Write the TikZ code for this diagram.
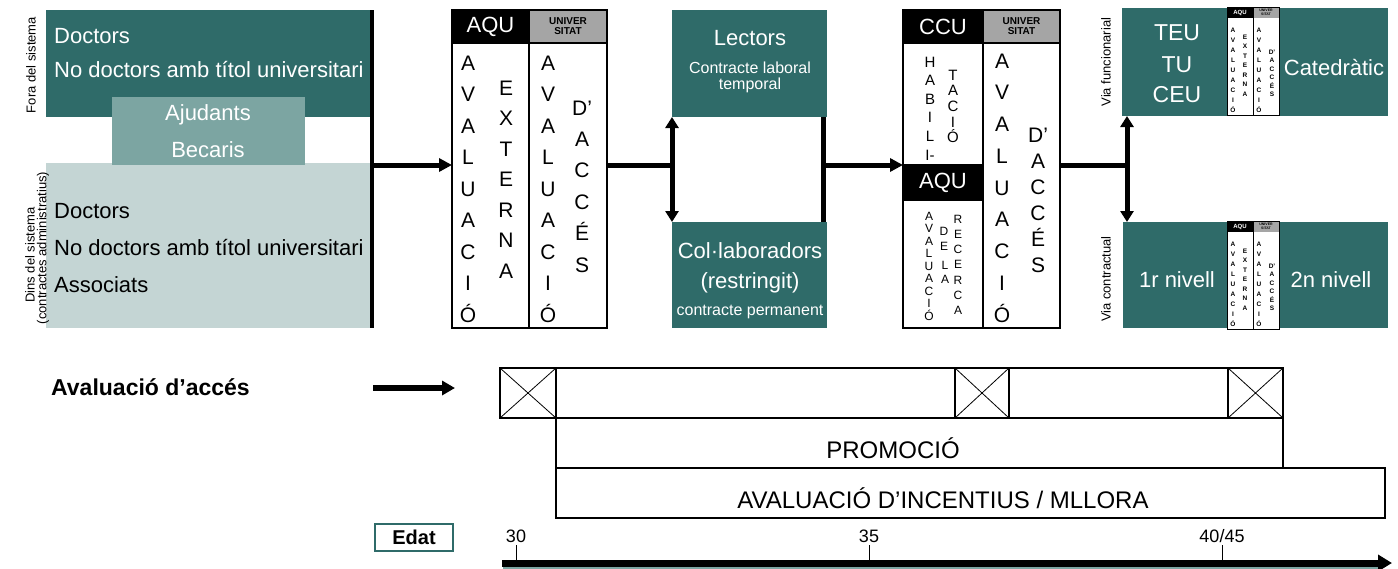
\documentclass[tikz,border=0pt]{standalone}
\usepackage{fontspec}
\setmainfont{Liberation Sans}
\usetikzlibrary{arrows.meta}

\definecolor{darkteal}{RGB}{47,107,105}
\definecolor{midteal}{RGB}{124,165,162}
\definecolor{paleteal}{RGB}{196,213,212}
\definecolor{headgray}{RGB}{165,165,165}

\newcommand{\fsize}[1]{\fontsize{#1}{#1}\selectfont}
% letters one under the other: name, x, first baseline, step, style, letters
\newcommand{\lettercol}[6]{%
  \foreach \ch [count=\k from 0] in {#6}
    \node[#5] (#1-\k) at (#2,{#3+\k*#4}) {\ch};%
}
% small AQU / UNIVERSITAT pair inside the right hand boxes
\newcommand{\minipair}[3]{%
  \begin{scope}[shift={(#1,#2)}]
    \node[box, fill=white, minimum width=52, minimum height=108] (#3) at (0,0) {};
    \node[box, fill=black, text=white, minimum width=26, minimum height=11,
      font=\fsize{6}\bfseries] (#3-aqu) at (0,0) {AQU};
    \node[box, fill=headgray, minimum width=26, minimum height=11, align=center,
      font=\fsize{3.5}\bfseries] (#3-uni) at (26,0) {UNIVER\\SITAT};
    \draw[line width=1pt] (#3.north west) rectangle (#3.south east);
    \draw[line width=1pt] (#3-uni.north west) -- (#3-uni.north west |- #3.south);
    \lettercol{#3-a}{6}{25}{10}{tinyletter}{A,V,A,L,U,A,C,I,Ó}
    \lettercol{#3-b}{18}{32}{9.5}{tinyletter}{E,X,T,E,R,N,A}
    \lettercol{#3-c}{32}{25}{10}{tinyletter}{A,V,A,L,U,A,C,I,Ó}
    \lettercol{#3-d}{45}{47}{8.5}{tinyletter}{D’,A,C,C,É,S}
  \end{scope}}

\begin{document}
\begin{tikzpicture}[x=1pt, y=-1pt,
    box/.style={anchor=north west, inner sep=0pt, outer sep=0pt},
    tealbox/.style={box, fill=darkteal},
    linebox/.style={box, draw, line width=1.2pt},
    whitetext/.style={anchor=base, inner sep=0pt, text=white, font=\fsize{22}},
    blacktext/.style={anchor=base, inner sep=0pt, font=\fsize{22}},
    sidelabel/.style={rotate=90, inner sep=0pt, font=\fsize{13}},
    bigletter/.style={anchor=base, inner sep=0pt, font=\fsize{21}},
    midletter/.style={anchor=base, inner sep=0pt, font=\fsize{15}},
    smallletter/.style={anchor=base, inner sep=0pt, font=\fsize{12}},
    tinyletter/.style={anchor=base, inner sep=0pt, font=\fsize{6.5}\bfseries},
    link/.style={line width=5pt},
    arrowlink/.style={link, -{Triangle[length=13pt,width=13pt]}},
    bothlink/.style={link, {Triangle[length=11pt,width=13pt]}-{Triangle[length=11pt,width=13pt]}},
    xbox/.style={linebox, path picture={
      \draw[line width=0.8pt] (path picture bounding box.north west) -- (path picture bounding box.south east)
        (path picture bounding box.north east) -- (path picture bounding box.south west);}},
  ]
  \useasboundingbox (0,0) rectangle (1398,568);
  \fill[white] (0,0) rectangle (1398,568);

  % staff outside and inside the system
  \node[tealbox, minimum width=326, minimum height=107] (fora) at (46,10) {};
  \node[box, fill=paleteal, minimum width=326, minimum height=165] (dins) at (46,163) {};
  \node[box, fill=midteal, minimum width=193, minimum height=68] (ajud) at (112,97) {};
  \node[whitetext, anchor=base west] (fora-1) at (54,43) {Doctors};
  \node[whitetext, anchor=base west] (fora-2) at (54,77) {No doctors amb títol universitari};
  \node[whitetext] (ajud-1) at (208,120) {Ajudants};
  \node[whitetext] (ajud-2) at (208,157) {Becaris};
  \node[blacktext, anchor=base west] (dins-1) at (54,218) {Doctors};
  \node[blacktext, anchor=base west] (dins-2) at (54,255) {No doctors amb títol universitari};
  \node[blacktext, anchor=base west] (dins-3) at (54,292) {Associats};
  \node[sidelabel] (foralab) at (31,65) {Fora del sistema};
  \node[sidelabel] (dinslab) at (30,255) {Dins del sistema};
  \node[sidelabel] (dinslab-2) at (43,248) {(contractes administratius)};

  \coordinate (barT) at (372,10);
  \coordinate (barB) at (372,328);
  \coordinate (j1) at (372,165);
  \draw[line width=4pt] (barT) -- (barB);

  % AQU external evaluation + university access evaluation
  \node[box, fill=black, text=white, minimum width=77, minimum height=33, font=\fsize{22}] (aqu-head) at (452,10) {AQU};
  \node[box, fill=headgray, minimum width=78, minimum height=33, align=center, font=\fsize{10}\bfseries] (aqu-uni) at (529,10) {UNIVER\\SITAT};
  \node[linebox, minimum width=155, minimum height=318] (aqu) at (452,10) {};
  \draw[line width=1.2pt] (aqu-uni.north west) -- (aqu-uni.north west |- aqu.south);
  \draw[line width=1.2pt] (aqu-head.south west) -- (aqu-uni.south east);
  \lettercol{aqu-a}{468}{70}{31.5}{bigletter}{A,V,A,L,U,A,C,I,Ó}
  \lettercol{aqu-b}{506}{95}{30.5}{bigletter}{E,X,T,E,R,N,A}
  \lettercol{aqu-c}{548}{70}{31.5}{bigletter}{A,V,A,L,U,A,C,I,Ó}
  \lettercol{aqu-d}{582}{115}{31.4}{bigletter}{D’,A,C,C,É,S}
  \draw[arrowlink] (j1) -- (j1 -| aqu.west);

  % lectors / col.laboradors
  \node[tealbox, minimum width=155, minimum height=107] (lect) at (672,10) {};
  \node[whitetext] (lect-1) at (750,45) {Lectors};
  \node[whitetext, font=\fsize{16}] (lect-2) at (750,73) {Contracte laboral};
  \node[whitetext, font=\fsize{16}] (lect-3) at (750,89) {temporal};
  \node[tealbox, minimum width=155, minimum height=106] (colab) at (672,222) {};
  \node[whitetext] (colab-1) at (750,258) {Col·laboradors};
  \node[whitetext] (colab-2) at (750,288) {(restringit)};
  \node[whitetext, font=\fsize{16}] (colab-3) at (750,315) {contracte permanent};
  \coordinate (j2) at (aqu.east |- j1);
  \coordinate (j3) at (lect.south west |- j1);
  \draw[link] (j2) -- (j3);
  \draw[bothlink] (lect.south west) -- (colab.north west);
  \coordinate (k1) at (823,117);
  \coordinate (k2) at (823,222);
  \draw[link] (k1) -- (k2);

  % CCU habilitation + AQU research evaluation + university access evaluation
  \node[box, fill=black, text=white, minimum width=80, minimum height=33, font=\fsize{22}] (ccu-head) at (903,10) {CCU};
  \node[box, fill=headgray, minimum width=77, minimum height=33, align=center, font=\fsize{10}\bfseries] (ccu-uni) at (983,10) {UNIVER\\SITAT};
  \node[box, fill=black, text=white, minimum width=80, minimum height=35, font=\fsize{22}] (aqu2-head) at (903,165) {AQU};
  \node[linebox, minimum width=157, minimum height=318] (ccu) at (903,10) {};
  \draw[line width=1.2pt] (ccu-uni.north west) -- (ccu-uni.north west |- ccu.south);
  \draw[line width=1.2pt] (ccu-head.south west) -- (ccu-uni.south east);
  \draw[line width=1.2pt] (aqu2-head.north west) -- (aqu2-head.north east);
  \draw[line width=1.2pt] (aqu2-head.south west) -- (aqu2-head.south east);
  \lettercol{ccu-a}{930}{67}{18.6}{midletter}{H,A,B,I,L,I-}
  \lettercol{ccu-b}{953}{80}{15.7}{midletter}{T,A,C,I,Ó}
  \lettercol{ccu-c}{929}{220}{12.5}{smallletter}{A,V,A,L,U,A,C,I,Ó}
  \lettercol{ccu-d}{944}{235}{15}{smallletter}{D,E}
  \lettercol{ccu-e}{945}{269}{14}{smallletter}{L,A}
  \lettercol{ccu-f}{958}{223}{15.3}{smallletter}{R,E,C,E,R,C,A}
  \lettercol{ccu-g}{1002}{68}{31.75}{bigletter}{A,V,A,L,U,A,C,I,Ó}
  \lettercol{ccu-h}{1038}{142}{26}{bigletter}{D’,A,C,C,É,S}
  \coordinate (j4) at (k1 |- j1);
  \draw[arrowlink] (j4) -- (j4 -| ccu.west);

  % civil service and contract tracks
  \node[tealbox, minimum width=266, minimum height=108] (func) at (1122,8) {};
  \node[tealbox, minimum width=265, minimum height=106] (contr) at (1123,222) {};
  \minipair{1227}{7}{funcpair}
  \minipair{1227}{221}{contrpair}
  \node[whitetext, font=\fsize{23}] (func-1) at (1177,40) {TEU};
  \node[whitetext, font=\fsize{23}] (func-2) at (1177,72) {TU};
  \node[whitetext, font=\fsize{23}] (func-3) at (1177,102) {CEU};
  \node[whitetext] (func-4) at (1334,75) {Catedràtic};
  \node[whitetext] (contr-1) at (1177,287) {1r nivell};
  \node[whitetext] (contr-2) at (1331,287) {2n nivell};
  \node[sidelabel] (funclab) at (1106,62) {Via funcionarial};
  \node[sidelabel] (contrlab) at (1106,279) {Via contractual};
  \coordinate (j5) at (ccu.east |- j1);
  \coordinate (j6) at (1127,165);
  \draw[link] (j5) -- (j6);
  \draw[bothlink] (j6 |- func.south) -- (j6 |- contr.north);

  % evaluation time line
  \node[anchor=base west, inner sep=0pt, font=\fsize{23}\bfseries] (avacc) at (51,395) {Avaluació d’accés};
  \coordinate (accA) at (373,388);
  \coordinate (accB) at (455,388);
  \draw[line width=6pt, -{Triangle[length=13pt,width=14pt]}] (accA) -- (accB);
  \node[linebox, minimum width=783, minimum height=50] (accrow) at (500,368) {};
  \node[xbox, minimum width=56, minimum height=50] (x1) at (500,368) {};
  \node[xbox, minimum width=54, minimum height=50] (x2) at (955,368) {};
  \node[xbox, minimum width=55, minimum height=50] (x3) at (1228,368) {};
  \node[linebox, minimum width=727, minimum height=50] (promo) at (556,418) {};
  \node[blacktext, font=\fsize{24}] (promo-t) at (893,458) {PROMOCIÓ};
  \node[linebox, minimum width=829, minimum height=50] (incent) at (556,468) {};
  \node[blacktext, font=\fsize{24}] (incent-t) at (943,508) {AVALUACIÓ D’INCENTIUS / MLLORA};
  \node[box, draw=darkteal, line width=1.5pt, minimum width=78, minimum height=27, font=\fsize{20}\bfseries] (edat) at (375,524) {Edat};

  \coordinate (timeA) at (502,563);
  \coordinate (timeB) at (1392,563);
  \draw[midteal, line width=3pt] (503,567) -- (1380,567);
  \draw[line width=7pt, -{Triangle[length=14pt,width=16pt]}] (timeA) -- (timeB);
  \foreach \tx/\tl in {516/30, 869/35, 1222/{40/45}} {
    \draw[line width=1pt] (\tx,545) -- (\tx,560);
    \node[blacktext, font=\fsize{18}] (tick-\tx) at (\tx,542) {\tl};
  }
\end{tikzpicture}
\end{document}
